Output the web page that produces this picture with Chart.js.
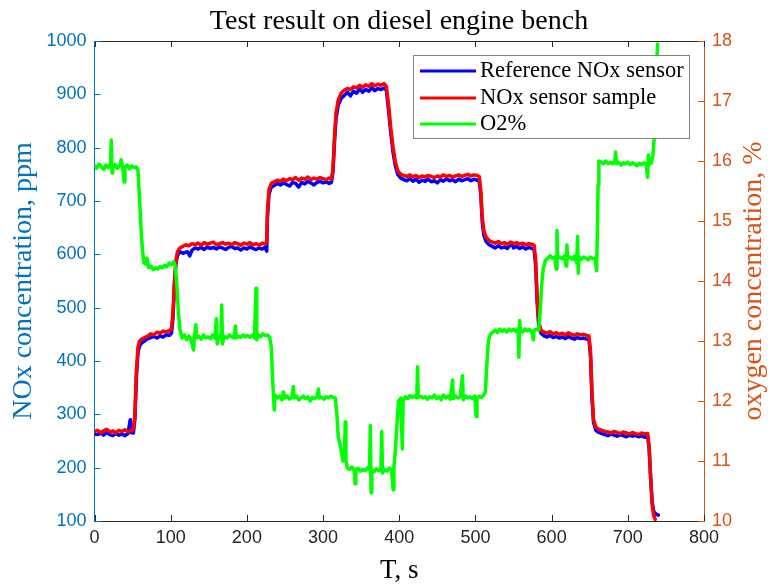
<!DOCTYPE html>
<html>
<head>
<meta charset="utf-8">
<script src="https://cdn.jsdelivr.net/npm/chart.js@4.4.1/dist/chart.umd.min.js"></script>
<style>
  html, body { margin: 0; padding: 0; background: #fff; }
</style>
</head>
<body>
<canvas id="grafico" width="770" height="587"></canvas>
<script>
// Reference NOx sensor (ppm, left axis)
const refTime = [0,4,8,12,16,20,24,28,32,36,40,44, 46,47,48,51, 53,55,57,59,
  62,66,70,74,78,82,86,90,94,98, 101,103,105,107,109,112,116, 122,125,128,
  132,136,140,144,148,152,156,160,164,168,172,176,180,184,188,192,196,200,204,208,212,216,220,224,
  226,227,229,232,
  236,240,244,248,252,256,260,264,268,272,276,280,284,288,292,296,300,304,308,
  311,313,315,317,320,
  324,328,332,336,340,344,348,352,356,360,364,368,372,376,380,
  383,386,389,392,395,398,
  402,406,410,414,418,422,426,430,434,438,442,446,450,454,458,462,466,470,474,478,482,486,490,494,498,502,
  505,507,509,511,514,
  518,522,526,530,534,538,542,546, 548, 550,554,558,562,566,570,574,
  577,579,581,583,586,
  590,594,598,602,606,610,614,618,622,626,630,634,638,642,646,
  649,651,653,655,658,
  662,666,670,674,678,682,686,690,694,698,702,706,710,714,718,722,726,
  728,730,732,734,737,740];
const refNOx = [263,262,265,261,266,262,260,264,261,263,260,264, 282,290,266,265, 290,370,415,428,
  434,438,442,444,446,443,447,445,449,448, 452,480,545,585,598,605,602, 605,597,608,
  612,610,613,609,614,611,613,610,614,612,609,613,615,611,612,608,612,610,614,611,609,612,610,613,
  606,670,712,726,
  729,733,730,734,731,728,735,733,726,735,732,737,734,730,735,737,734,736,733,
  735,755,810,855,880,
  893,898,904,897,906,902,910,904,909,906,912,907,911,909,912,
  908,870,826,790,765,750,
  743,740,738,742,737,741,735,739,737,741,736,738,734,740,737,742,738,740,736,741,738,740,742,738,741,739,
  737,712,660,636,624,
  618,615,612,616,612,614,611,618, 621, 612,615,611,614,610,613,611,
  609,580,510,468,452,
  447,445,448,444,446,443,445,442,446,443,441,444,442,443,441,
  440,410,330,285,270,
  266,264,262,260,263,261,259,262,260,258,261,259,261,258,260,257,259,
  235,180,135,118,113,111];

// NOx sensor sample (ppm, left axis)
const sampleTime = [0,4,8,12,16,20,24,28,32,36,40,44, 48,51, 53,55,57,59,
  62,66,70,74,78,82,86,90,94,98, 101,103,105,107,109,112,116,
  120,124,128,132,136,140,144,148,152,156,160,164,168,172,176,180,184,188,192,196,200,204,208,212,216,220,224,
  226,227,229,232,
  236,240,244,248,252,256,260,264,268,272,276,280,284,288,292,296,300,304,308,
  311,313,315,317,320,
  324,328,332,336,340,344,348,352,356,360,364,368,372,376,380,
  383,386,389,392,395,398,
  402,406,410,414,418,422,426,430,434,438,442,446,450,454,458,462,466,470,474,478,482,486,490,494,498,502,
  505,507,509,511,514,
  518,522,526,530,534,538,542,546,550,554,558,562,566,570,574,
  577,579,581,583,586,
  590,594,598,602,606,610,614,618,622,626,630,634,638,642,646,
  649,651,653,655,658,
  662,666,670,674,678,682,686,690,694,698,702,706,710,714,718,722,726,
  728,730,732,734,736];
const sampleNOx = [268,270,266,269,272,267,269,265,270,268,271,267, 270,272, 300,380,425,437,
  441,444,447,451,449,454,452,456,454,457, 460,490,550,590,605,612,615,
  618,616,620,618,621,617,622,619,621,623,618,620,622,619,621,618,622,620,617,621,619,622,618,620,617,621,619,
  622,680,722,733,
  736,739,737,741,738,742,740,744,739,743,741,745,740,743,741,744,742,740,743,
  741,760,820,865,890,
  903,908,911,909,914,912,917,913,918,915,920,916,919,917,920,
  915,880,835,800,772,757,
  750,748,746,749,745,748,744,747,745,748,746,744,747,745,749,746,748,745,747,749,746,748,750,747,749,748,
  746,720,670,645,632,
  626,623,621,624,620,622,619,623,620,622,619,621,618,620,619,
  617,590,520,475,458,
  454,452,455,451,453,450,452,449,453,450,448,451,449,450,448,
  447,420,340,290,276,
  272,270,268,267,265,268,266,264,267,265,263,266,264,262,265,263,264,
  240,180,130,110,103];

// O2 (%, right axis)
const o2Time = [0,3,6,9,12,15,18,21,22,23,24,27,30,33,35,37,39,40,43,46,49,52,55,
  57,59,61,63,65,67,69,71,74,77,80,83,86,89,92,95,98,101,104,106,
  108,110,112,115,118,121,124,127,130,131,133,134,137,140,143,146,149,152,155,158,160,161,163,166,167,168,
  170,174,177,180,183,185,186,189,192,195,198,201,204,207,210,212,213,215,218,221,224,227,230,
  232,234,236,237,240,243,246,248,250,253,256,259,261,262,265,268,271,274,277,280,283,286,289,292,294,295,
  298,301,304,307,310,313,316,
  318,320,323,326,328,329,330,332,335,338,341,342,343,346,349,352,355,358,361,362,363,364,367,370,373,376,
  377,378,381,384,387,390,392,393,395,397,399,
  402,404,405,408,411,414,417,420,423,424,425,428,431,434,437,440,443,446,449,452,455,458,461,464,467,470,
  471,474,477,480,483,484,487,490,493,496,499,501,502,505,508,511,
  513,515,517,520,523,526,529,532,535,538,541,544,547,550,553,556,557,558,559,562,565,568,571,574,576,577,580,583,
  585,587,589,592,595,598,601,604,606,607,608,611,614,617,619,620,621,624,627,630,633,634,635,636,639,642,
  645,648,651,654,657,659,660,661,662,
  665,668,671,674,677,680,683,684,685,688,691,694,697,700,703,706,709,712,715,718,721,724,726,727,729,731,
  733,735,737,739];
const o2Pct = [15.92,15.88,15.95,15.9,15.86,15.93,15.89,15.95,16.35,15.8,15.9,15.94,15.88,15.92,16.02,15.9,15.65,15.9,15.93,15.87,15.92,15.89,15.9,
  15.85,15.4,14.9,14.5,14.3,14.28,14.38,14.22,14.25,14.19,14.22,14.2,14.24,14.22,14.26,14.24,14.3,14.27,14.32,14.25,
  13.95,13.5,13.2,13.05,13.1,13.02,13.08,13.0,12.85,13.05,13.27,13.05,13.08,13.03,13.1,13.05,13.07,13.04,13.1,13.05,13.37,12.95,13.08,13.05,13.6,12.95,
  13.08,13.05,13.1,13.07,13.05,13.25,13.05,13.08,13.06,13.1,13.07,13.09,13.06,13.1,13.05,13.88,13.02,13.1,13.07,13.12,13.09,13.1,13.06,
  12.9,12.3,11.85,12.1,12.05,12.08,12.02,12.15,12.05,12.08,12.03,12.06,12.24,12.05,12.08,12.02,12.05,12.08,12.04,12.07,12.0,12.06,12.04,12.07,12.2,12.05,
  12.06,12.03,12.07,12.05,12.08,12.06,12.05,
  11.8,11.4,11.24,11.0,11.0,11.65,11.0,10.88,10.86,10.9,10.84,10.62,10.86,10.88,10.83,10.86,10.84,10.88,10.85,11.59,10.47,10.85,10.82,10.87,10.84,10.86,
  11.49,10.8,10.86,10.83,10.88,10.85,10.52,10.9,11.2,11.6,12.0,
  12.05,11.2,12.0,12.07,12.04,12.09,12.06,12.08,12.05,12.57,12.06,12.08,12.05,12.07,12.03,12.07,12.05,12.1,12.04,12.07,12.02,12.1,12.05,12.08,12.03,12.35,
  12.04,12.08,12.05,12.07,12.42,12.02,12.08,12.05,12.07,12.04,12.08,11.74,12.05,12.08,12.06,12.1,
  12.15,12.6,13.0,13.12,13.15,13.18,13.14,13.2,13.16,13.19,13.15,13.2,13.17,13.2,13.16,13.2,12.73,13.34,13.18,13.15,13.2,13.17,13.19,13.15,13.02,13.18,13.2,13.18,
  13.5,13.95,14.2,14.35,14.38,14.42,14.38,14.4,14.2,14.84,14.38,14.4,14.37,14.42,14.25,14.6,14.38,14.4,14.36,14.41,14.3,14.74,14.13,14.4,14.36,14.4,
  14.38,14.35,14.4,14.37,14.38,14.17,14.8,15.6,16.0,
  15.98,15.95,16.0,15.96,15.98,15.95,16.0,16.15,15.96,15.98,15.93,15.97,15.95,15.98,15.94,15.97,15.95,15.92,15.96,15.94,15.97,15.95,15.73,16.1,15.95,15.97,
  16.1,16.45,17.3,17.95];

const seriesNames = ["Reference NOx sensor", "NOx sensor sample", "O2%"];
const seriesColors = ["#0000ff", "#ff0000", "#00ff00"];
const xTicks = [0, 800, 100];      // min, max, step
const noxTicks = [100, 1000, 100];
const o2Ticks = [10, 18, 1];

const corEsq = "#0072BD";
const corDir = "#D95319";
const corEixo = "#262626";
const fonteNum = '"Liberation Sans", Arial, sans-serif';
const fonteSerif = '"Liberation Serif", "Times New Roman", serif';

function pares(tt, vv) {
  const n = Math.min(tt.length, vv.length);
  const out = [];
  for (let i = 0; i < n; i++) out.push({ x: tt[i], y: vv[i] });
  return out;
}

// Ticks para dentro, moldura, titulos dos eixos y e legenda
const moldura = {
  id: "moldura",
  afterDraw(chart) {
    const c = chart.ctx;
    const a = chart.chartArea;
    const sx = chart.scales.x, sy = chart.scales.y, sy1 = chart.scales.y1;
    const L = 6;
    c.save();
    c.lineWidth = 1;

    c.strokeStyle = corEixo;
    c.beginPath();
    c.moveTo(a.left, Math.round(a.top) + 0.5);
    c.lineTo(a.right, Math.round(a.top) + 0.5);
    sx.ticks.forEach(t => {
      const px = Math.round(sx.getPixelForValue(t.value)) + 0.5;
      c.moveTo(px, a.bottom); c.lineTo(px, a.bottom - L);
      c.moveTo(px, a.top); c.lineTo(px, a.top + L);
    });
    c.stroke();

    c.strokeStyle = corEsq;
    c.beginPath();
    sy.ticks.forEach(t => {
      const py = Math.round(sy.getPixelForValue(t.value)) + 0.5;
      c.moveTo(a.left, py); c.lineTo(a.left + L, py);
    });
    c.stroke();

    c.strokeStyle = corDir;
    c.beginPath();
    sy1.ticks.forEach(t => {
      const py = Math.round(sy1.getPixelForValue(t.value)) + 0.5;
      c.moveTo(a.right, py); c.lineTo(a.right - L, py);
    });
    c.stroke();

    // titulos dos eixos y (ambos de baixo para cima)
    const meioY = (a.top + a.bottom) / 2;
    c.font = "28px " + fonteSerif;
    c.textAlign = "center";
    c.textBaseline = "middle";
    c.fillStyle = corEsq;
    c.save(); c.translate(24, meioY); c.rotate(-Math.PI / 2);
    c.fillText("NOx concentration, ppm", 0, 0); c.restore();
    c.fillStyle = corDir;
    c.save(); c.translate(754, meioY); c.rotate(-Math.PI / 2);
    c.fillText("oxygen concentration, %", 0, 0); c.restore();

    // legenda
    const bx = 413.5, by = 55.5, bw = 276, bh = 83;
    c.fillStyle = "#fff";
    c.fillRect(bx, by, bw, bh);
    c.strokeStyle = "#808080";
    c.strokeRect(bx, by, bw, bh);
    const linhasY = [71, 98, 124];
    c.font = "22.5px " + fonteSerif;
    c.textAlign = "left";
    c.lineWidth = 3;
    seriesNames.forEach((nome, i) => {
      c.strokeStyle = seriesColors[i];
      c.beginPath();
      c.moveTo(420, linhasY[i]); c.lineTo(476, linhasY[i]);
      c.stroke();
      c.fillStyle = "#000";
      c.fillText(nome, 480, linhasY[i]);
    });
    c.restore();
  }
};

const fmt = v => String(v);

new Chart(document.getElementById("grafico"), {
  type: "line",
  data: {
    datasets: [
      { label: seriesNames[0], data: pares(refTime, refNOx), borderColor: seriesColors[0], yAxisID: "y", order: 2 },
      { label: seriesNames[1], data: pares(sampleTime, sampleNOx), borderColor: seriesColors[1], yAxisID: "y", order: 1 },
      { label: seriesNames[2], data: pares(o2Time, o2Pct), borderColor: seriesColors[2], yAxisID: "y1", order: 0 }
    ]
  },
  options: {
    responsive: false,
    animation: false,
    events: [],
    layout: { padding: { left: 28, right: 0, top: 0, bottom: 0 } },
    elements: {
      line: { borderWidth: 3.5, tension: 0, borderJoinStyle: "round", borderCapStyle: "round", fill: false },
      point: { radius: 0 }
    },
    plugins: {
      legend: { display: false },
      tooltip: { enabled: false },
      title: {
        display: true,
        text: "Test result on diesel engine bench",
        color: "#000",
        font: { family: fonteSerif, size: 28, weight: "normal" },
        padding: { top: 5, bottom: 2.4 }
      }
    },
    scales: {
      x: {
        type: "linear", position: "bottom",
        min: xTicks[0], max: xTicks[1],
        ticks: { stepSize: xTicks[2], color: corEixo, font: { family: fonteNum, size: 18 }, padding: 6, maxRotation: 0, autoSkip: false, callback: fmt },
        grid: { display: false, drawTicks: false },
        border: { display: true, color: corEixo, width: 1 },
        title: { display: true, text: "T, s", color: "#000", font: { family: fonteSerif, size: 27 }, padding: { top: 0, bottom: 0 } },
        afterFit: s => { s.height = 66; }
      },
      y: {
        type: "linear", position: "left",
        min: noxTicks[0], max: noxTicks[1],
        ticks: { stepSize: noxTicks[2], color: corEsq, font: { family: fonteNum, size: 18 }, padding: 8, callback: fmt },
        grid: { display: false, drawTicks: false },
        border: { display: true, color: corEsq, width: 1 },
        afterFit: s => { s.width = 66.5; }
      },
      y1: {
        type: "linear", position: "right",
        min: o2Ticks[0], max: o2Ticks[1],
        ticks: { stepSize: o2Ticks[2], color: corDir, font: { family: fonteNum, size: 18 }, padding: 8, callback: fmt },
        grid: { display: false, drawTicks: false },
        border: { display: true, color: corDir, width: 1 },
        afterFit: s => { s.width = 66; }
      }
    }
  },
  plugins: [moldura]
});
</script>
</body>
</html>
